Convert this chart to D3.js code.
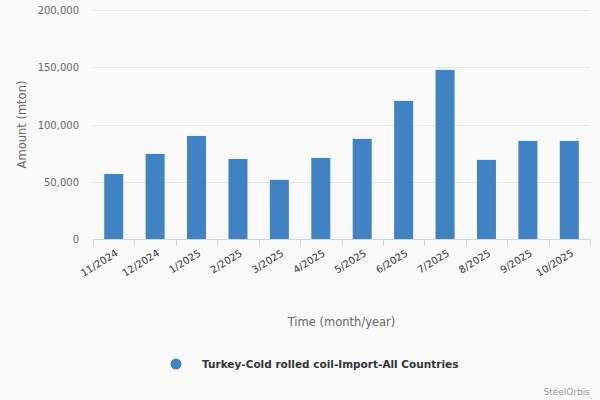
<!DOCTYPE html>
<html>
<head>
<meta charset="utf-8">
<script src="https://cdn.jsdelivr.net/npm/d3@7"></script>
<style>
  body { margin: 0; background: #fafafa; }
  svg { display: block; font-family: "DejaVu Sans", sans-serif; }
</style>
</head>
<body>
<script>
// data
const months = ["11/2024", "12/2024", "1/2025", "2/2025", "3/2025", "4/2025",
  "5/2025", "6/2025", "7/2025", "8/2025", "9/2025", "10/2025"];
const amounts = [56800, 74300, 90000, 69900, 51600, 70800,
  87400, 120600, 147700, 69100, 85700, 85700];
const yTicks = [0, 50000, 100000, 150000, 200000];
const seriesName = "Turkey-Cold rolled coil-Import-All Countries";

const width = 600, height = 400;
const margin = { top: 10, right: 10, bottom: 161, left: 93 };

const svg = d3.select("body").append("svg")
  .attr("width", width)
  .attr("height", height);

svg.append("rect")
  .attr("width", width)
  .attr("height", height)
  .attr("fill", "#fafafa");

const x = d3.scaleBand()
  .domain(months)
  .range([margin.left, width - margin.right])
  .padding(0);

const y = d3.scaleLinear()
  .domain([0, 200000])
  .range([height - margin.bottom, margin.top]);

const fmt = d3.format(",");

// gridlines
svg.append("g")
  .selectAll("line")
  .data(yTicks.slice(1))
  .join("line")
  .attr("x1", margin.left)
  .attr("x2", width - margin.right)
  .attr("y1", d => Math.round(y(d)) + 0.5)
  .attr("y2", d => Math.round(y(d)) + 0.5)
  .attr("stroke", "#e6e6e6");

// y labels
svg.append("g")
  .selectAll("text")
  .data(yTicks)
  .join("text")
  .attr("x", 79)
  .attr("y", d => y(d) + 4)
  .attr("text-anchor", "end")
  .attr("font-size", 10)
  .attr("fill", "#666")
  .text(d => fmt(d));

// y title
svg.append("text")
  .attr("transform", `translate(26, ${(y(0) + y(200000)) / 2}) rotate(-90)`)
  .attr("text-anchor", "middle")
  .attr("font-size", 11.5)
  .attr("fill", "#666")
  .text("Amount (mton)");

// bars
const barW = 19;
svg.append("g")
  .selectAll("rect")
  .data(amounts)
  .join("rect")
  .attr("x", (d, i) => x(months[i]) + x.bandwidth() / 2 - barW / 2)
  .attr("y", d => y(d))
  .attr("width", barW)
  .attr("height", d => y(0) - y(d))
  .attr("fill", "#3f83c4");

// x axis line and ticks
const base = y(0);
svg.append("line")
  .attr("x1", margin.left)
  .attr("x2", width - margin.right)
  .attr("y1", base + 0.5)
  .attr("y2", base + 0.5)
  .attr("stroke", "#ccd6eb");

const edges = months.map(m => x(m)).concat([width - margin.right]);
svg.append("g")
  .selectAll("line")
  .data(edges)
  .join("line")
  .attr("x1", d => Math.round(d) + 0.5)
  .attr("x2", d => Math.round(d) + 0.5)
  .attr("y1", base)
  .attr("y2", base + 7)
  .attr("stroke", "#ccd6eb");

// x labels, rotated
svg.append("g")
  .selectAll("text")
  .data(months)
  .join("text")
  .attr("transform", d => `translate(${x(d) + x.bandwidth() / 2 + 5}, ${base + 16}) rotate(-32)`)
  .attr("text-anchor", "end")
  .attr("font-size", 10)
  .attr("fill", "#333")
  .text(d => d);

// x title
svg.append("text")
  .attr("x", (margin.left + width - margin.right) / 2)
  .attr("y", 326)
  .attr("text-anchor", "middle")
  .attr("font-size", 11.5)
  .attr("fill", "#666")
  .text("Time (month/year)");

// legend
svg.append("circle")
  .attr("cx", 176)
  .attr("cy", 364)
  .attr("r", 5.5)
  .attr("fill", "#3f83c4");

svg.append("text")
  .attr("x", 202)
  .attr("y", 368)
  .attr("font-size", 10.5)
  .attr("font-weight", "bold")
  .attr("fill", "#333")
  .text(seriesName);

// credits
svg.append("text")
  .attr("x", 590)
  .attr("y", 395)
  .attr("text-anchor", "end")
  .attr("font-size", 9)
  .attr("fill", "#999")
  .text("SteelOrbis");
</script>
</body>
</html>
